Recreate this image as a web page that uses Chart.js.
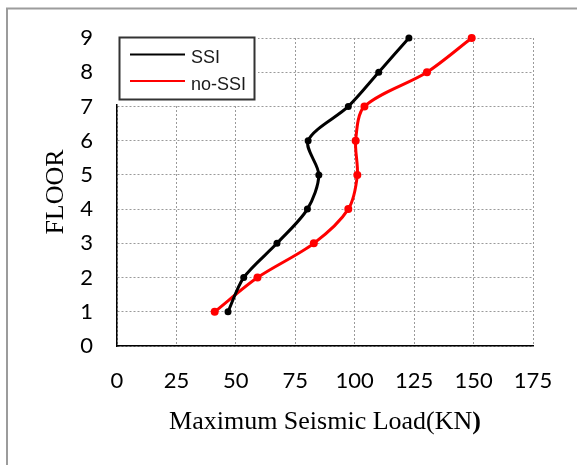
<!DOCTYPE html>
<html>
<head>
<meta charset="utf-8">
<script src="https://cdn.jsdelivr.net/npm/chart.js@4/dist/chart.umd.min.js"></script>
<style>
  html, body { margin: 0; padding: 0; background: #fff; }
  canvas { display: block; }
</style>
</head>
<body>
<canvas id="chart" width="577" height="465"></canvas>
<script>
// values (floor vs. max seismic load, kN)
const floors = [1, 2, 3, 4, 5, 6, 7, 8, 9];
const ssiLoad = [46.7, 53.3, 67.3, 80.1, 84.9, 80.4, 97.3, 110.1, 122.8];
const noSsiLoad = [41.1, 59.1, 82.8, 97.3, 101.1, 100.4, 104.1, 130.4, 149.2];
const xTicks = [0, 25, 50, 75, 100, 125, 150, 175];
const seriesNames = ["SSI", "no-SSI"];
const seriesColors = ["#000000", "#ff0000"];

const toPoints = (loads) => loads.map((x, i) => ({ x, y: floors[i] }));

/* outer frame (top + left only, the picture is cropped on the other sides) */
const framePlugin = {
  id: "frame",
  beforeDraw(chart) {
    const { ctx } = chart;
    ctx.save();
    ctx.strokeStyle = "#9c9c9c";
    ctx.lineWidth = 2;
    ctx.beginPath();
    ctx.moveTo(7, 465); ctx.lineTo(7, 8.5); ctx.lineTo(577, 8.5);
    ctx.stroke();
    ctx.restore();
  },
};

/* boxed legend in the top-left corner of the plot, plus the x title with its bold ")" */
const overlayPlugin = {
  id: "overlay",
  afterDraw(chart) {
    const { ctx, chartArea } = chart;
    ctx.save();
    ctx.fillStyle = "#fff";
    ctx.fillRect(chartArea.left - 1, 34, 142, 70);
    ctx.strokeStyle = "#333";
    ctx.lineWidth = 2;
    ctx.strokeRect(119.5, 37.5, 135, 62);
    ctx.font = "18px 'Liberation Sans', Arial, sans-serif";
    ctx.textBaseline = "alphabetic";
    const rows = [54.5, 81];
    chart.data.datasets.forEach((ds, i) => {
      ctx.strokeStyle = ds.borderColor;
      ctx.lineWidth = 2;
      ctx.beginPath();
      ctx.moveTo(130, rows[i]); ctx.lineTo(185, rows[i]);
      ctx.stroke();
      ctx.fillStyle = "#1a1a1a";
      ctx.fillText(ds.label, 191, rows[i] + 8.5);
    });

    const main = "Maximum Seismic Load(KN";
    const fReg = "26px 'Liberation Serif', 'Times New Roman', serif";
    const fBold = "bold 26px 'Liberation Serif', 'Times New Roman', serif";
    ctx.font = fReg; const w1 = ctx.measureText(main).width;
    ctx.font = fBold; const w2 = ctx.measureText(")").width;
    const x0 = (chartArea.left + chartArea.right) / 2 - (w1 + w2) / 2;
    ctx.fillStyle = "#000";
    ctx.textAlign = "left";
    ctx.font = fReg; ctx.fillText(main, x0, 429);
    ctx.font = fBold; ctx.fillText(")", x0 + w1, 429);
    ctx.restore();
  },
};

const tickFont = { family: "Lato", size: 22 };

new Chart(document.getElementById("chart"), {
  type: "scatter",
  data: {
    datasets: [ssiLoad, noSsiLoad].map((loads, i) => ({
      label: seriesNames[i],
      data: toPoints(loads),
      showLine: true,
      tension: 0.3,
      borderColor: seriesColors[i],
      backgroundColor: seriesColors[i],
      borderWidth: 3,
      pointRadius: i === 0 ? 3.5 : 4,
      pointBorderWidth: 0,
      pointBackgroundColor: seriesColors[i],
      clip: false,
    })),
  },
  plugins: [framePlugin, overlayPlugin],
  options: {
    responsive: false,
    animation: false,
    devicePixelRatio: 1,
    layout: { padding: { top: 38, right: 44, left: 0, bottom: 0 } },
    plugins: { legend: { display: false }, tooltip: { enabled: false } },
    scales: {
      x: {
        type: "linear",
        min: 0, max: 175,
        afterBuildTicks: (s) => { s.ticks = xTicks.map((v) => ({ value: v })); },
        afterFit: (s) => { s.height = 119; },
        ticks: { font: tickFont, color: "#000", padding: 22, maxRotation: 0 },
        grid: { color: "#9a9a9a", lineWidth: 1, drawTicks: false },
        border: { display: true, color: "#000", width: 1.5, dash: [2, 2] },
      },
      y: {
        type: "linear",
        min: 0, max: 9,
        ticks: { stepSize: 1, font: tickFont, color: "#000", padding: 24 },
        afterFit: (s) => { s.width = 117; },
        grid: { color: "#9a9a9a", lineWidth: 1, drawTicks: false },
        border: { display: true, color: "#000", width: 1.5, dash: [2, 2] },
        title: {
          display: true, text: "FLOOR", color: "#000",
          font: { family: "'Liberation Serif', 'Times New Roman', serif", size: 26, weight: "normal" },
          padding: { top: 41, bottom: 0 },
        },
      },
    },
  },
});
</script>
</body>
</html>
